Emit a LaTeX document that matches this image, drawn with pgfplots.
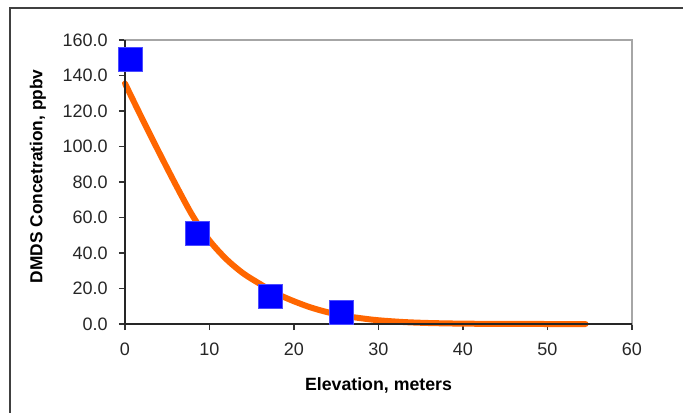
\documentclass[border=0pt]{standalone}
\usepackage{fontspec}
\setmainfont{Liberation Sans}
\usepackage{pgfplots}
\pgfplotsset{compat=1.18}
\definecolor{curveorange}{RGB}{255,102,0}
\definecolor{markblue}{RGB}{0,0,255}
\begin{document}
\begin{tikzpicture}
\begin{axis}[
  at={(0,0)}, anchor=south west,
  scale only axis,
  width=380.25pt, height=213pt,
  xmin=0, xmax=60, ymin=0, ymax=160,
  xtick={0,10,...,60},
  ytick={0,20,...,160},
  tick align=outside,
  major tick length=4.5pt,
  xtick pos=bottom, ytick pos=left,
  tick style={black!80, line width=0.8pt},
  axis line style={black!35, line width=1pt},
  clip=false,
  /pgf/number format/assume math mode=true,
  yticklabel style={/pgf/number format/.cd, fixed, fixed zerofill, precision=1, /tikz/.cd, xshift=-5pt},
  xticklabel style={yshift=-6pt},
  ticklabel style={font=\fontsize{13.5}{15}\selectfont, text=black!85},
  xlabel={Elevation, meters},
  ylabel={DMDS Concetration, ppbv},
  xlabel style={at={(axis description cs:0.5,-0.2148)}, anchor=center, font=\fontsize{13.3}{15}\selectfont\bfseries},
  ylabel style={at={(axis description cs:-0.1716,0.52)}, anchor=center, rotate=0, font=\fontsize{13}{15}\selectfont\bfseries},
]
\addplot[curveorange, line width=4.5pt, smooth, line cap=round] coordinates {
(0,135.5) (2,116) (4,97) (6,78.5) (8,61) (10,47) (12,36.5) (14,28.5) (16,22.5)
(18,17) (20,12.8) (22,9.3) (24,6.6) (26,4.6) (28,3.2) (30,2.1) (33,1.1)
(36,0.55) (40,0.2) (45,0.05) (50,0) (54.5,0)
};
\addplot[only marks, mark=square*, mark size=9pt, mark options={fill=markblue, draw=blue!70!white, line width=0.4pt}] coordinates {
(0.6,149.2) (8.6,51.2) (17.2,15.9) (25.6,6.6)
};
\draw[black!85, line width=1.2pt] (rel axis cs:0,1) -- (rel axis cs:0,0) -- (rel axis cs:1,0);
\end{axis}
\pgfresetboundingbox
\path[use as bounding box] (-93.75pt,-66pt) rectangle (418.5pt,243pt);
\draw[black!75, line width=1.5pt] (-86.25pt,-80pt) -- (-86.25pt,237pt) -- (430pt,237pt);
\end{tikzpicture}
\end{document}
